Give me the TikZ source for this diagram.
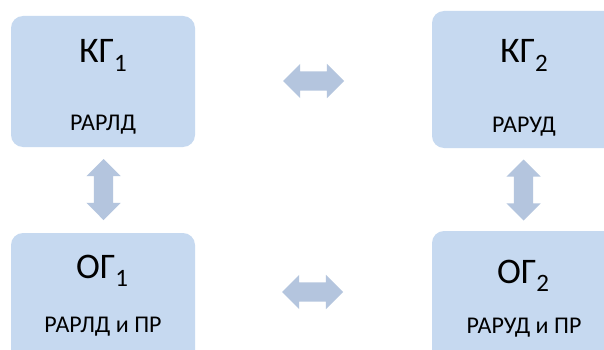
\documentclass[tikz,border=0pt]{standalone}
\usepackage{fontspec}
\setmainfont{Carlito}
\usetikzlibrary{shapes.arrows}
\definecolor{boxfill}{RGB}{198,217,240}
\definecolor{arrowfill}{RGB}{180,197,222}
\newcommand{\bigttl}[2]{{\fontsize{36}{40}\selectfont #1\raisebox{-8.3pt}{\fontsize{25}{28}\selectfont #2}}}
\tikzset{
  gbox/.style={draw=none, fill=boxfill, rounded corners=12pt, minimum width=184pt, minimum height=131pt, inner sep=0pt},
  ttl/.style={anchor=base, inner sep=0pt, text=black},
  sub/.style={anchor=base, inner sep=0pt, text=black, font=\fontsize{24}{28}\selectfont},
  harrow/.style={double arrow, fill=arrowfill, draw=none, minimum height=61pt, inner xsep=0pt, inner ysep=9.5pt, double arrow head extend=7.5pt},
  varrow/.style={harrow, rotate=90}
}
\begin{document}
\begin{tikzpicture}[x=1pt,y=-1pt]
\clip (0,0) rectangle (604,350);
\fill[white] (0,0) rectangle (604,350);
% boxes
\node[gbox] (kg1) at (103,81.5) {};
\node[gbox, minimum height=137pt] (kg2) at (524,79.5) {};
\node[gbox] (og1) at (103,298.5) {};
\node[gbox] (og2) at (524,296.5) {};
% texts
\node[ttl] (kg1t) at (103,63) {\bigttl{КГ}{1}};
\node[sub] (kg1s) at (103,130) {РАРЛД};
\node[ttl] (kg2t) at (524,63) {\bigttl{КГ}{2}};
\node[sub] (kg2s) at (524,132) {РАРУД};
\node[ttl] (og1t) at (102,278) {\bigttl{ОГ}{1}};
\node[sub] (og1s) at (103,332) {РАРЛД и ПР};
\node[ttl] (og2t) at (523,283) {\bigttl{ОГ}{2}};
\node[sub] (og2s) at (524,333) {РАРУД и ПР};
% connectors (block arrows)
\coordinate (ctop) at (313.5,81);
\coordinate (cbot) at (312.5,292);
\coordinate (cleft) at (103.5,189.5);
\coordinate (cright) at (523.5,190);
\node[harrow] (a1) at (ctop) {};
\node[harrow] (a2) at (cbot) {};
\node[varrow] (a3) at (cleft) {};
\node[varrow] (a4) at (cright) {};
\end{tikzpicture}
\end{document}
